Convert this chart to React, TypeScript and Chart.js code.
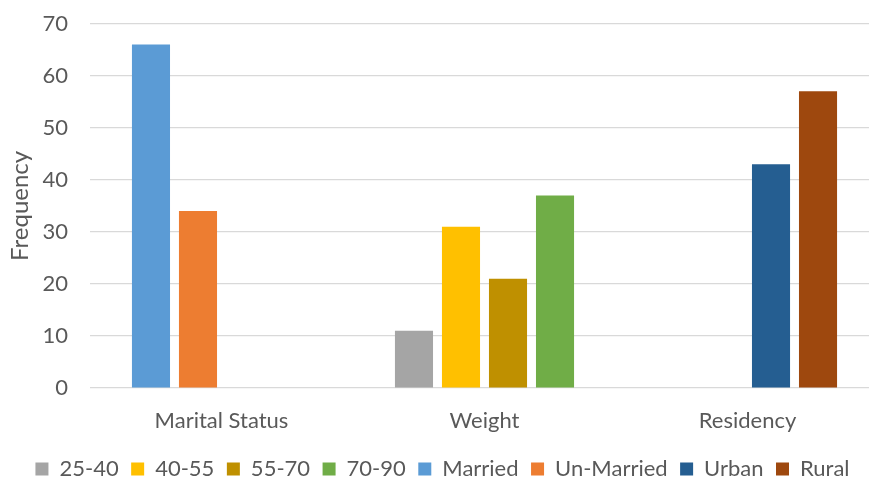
import React, { useEffect, useRef } from "react";
import { Chart, registerables } from "chart.js";

Chart.register(...registerables);

// Groups along the x axis
const categories = ["Marital Status", "Weight", "Residency"];

// Weight bands (kg)
const w2540 = [null, 11, null];
const w4055 = [null, 31, null];
const w5570 = [null, 21, null];
const w7090 = [null, 37, null];
// Marital status
const married = [66, null, null];
const unMarried = [34, null, null];
// Residency
const urban = [null, null, 43];
const rural = [null, null, 57];

const yTicks = [0, 10, 20, 30, 40, 50, 60, 70];

const FONT = "Lato, 'Open Sans', sans-serif";
const TEXT = "#595959";

export default function App() {
  const canvasRef = useRef<HTMLCanvasElement | null>(null);

  useEffect(() => {
    if (!canvasRef.current) return;
    // each group holds four slots; series sharing a slot are placed in the same stack
    const mk = (label: string, data: (number | null)[], color: string, slot: string) => ({
      label,
      data,
      backgroundColor: color,
      borderColor: color,
      borderWidth: 0,
      stack: slot,
      categoryPercentage: 0.715,
      barPercentage: 0.81,
    });
    const chart = new Chart(canvasRef.current, {
      type: "bar",
      data: {
        labels: categories,
        datasets: [
          mk("25-40", w2540, "#A5A5A5", "s1"),
          mk("40-55", w4055, "#FFC000", "s2"),
          mk("55-70", w5570, "#BF9000", "s3"),
          mk("70-90", w7090, "#70AD47", "s4"),
          mk("Married", married, "#5B9BD5", "s1"),
          mk("Un-Married", unMarried, "#ED7D31", "s2"),
          mk("Urban", urban, "#255E91", "s3"),
          mk("Rural", rural, "#9E480E", "s4"),
        ],
      },
      options: {
        animation: false,
        responsive: true,
        maintainAspectRatio: false,
        layout: { padding: { top: 0, right: 11, left: 6, bottom: 0 } },
        plugins: {
          tooltip: { enabled: false },
          legend: {
            position: "bottom",
            labels: {
              boxWidth: 13,
              boxHeight: 13,
              padding: 12.5,
              color: TEXT,
              font: { family: FONT, size: 22 },
            },
          },
        },
        scales: {
          x: {
            stacked: true,
            grid: { display: false },
            border: { display: false },
            ticks: { color: TEXT, font: { family: FONT, size: 22 }, padding: 11.5 },
          },
          y: {
            stacked: true,
            min: 0,
            max: 70,
            afterBuildTicks: (axis: any) => {
              axis.ticks = yTicks.map((v) => ({ value: v }));
            },
            afterFit: (axis: any) => {
              axis.width = 84;
              axis.paddingTop = 23.7;
              axis.paddingBottom = 0;
            },
            grid: { color: "#d9d9d9", lineWidth: 1.3, drawTicks: false },
            border: { display: false },
            ticks: { color: TEXT, font: { family: FONT, size: 22 }, padding: 22 },
            title: {
              display: true,
              text: "Frequency",
              color: TEXT,
              font: { family: FONT, size: 24 },
              padding: { top: 0, bottom: 4 },
            },
          },
        },
      },
    });
    return () => chart.destroy();
  }, []);

  return (
    <div style={{ position: "fixed", left: 0, top: 0, width: 869, height: 480, overflow: "hidden", background: "#fff" }}>
      <div style={{ position: "relative", width: 890, height: 490 }}>
        <canvas ref={canvasRef} />
      </div>
    </div>
  );
}
